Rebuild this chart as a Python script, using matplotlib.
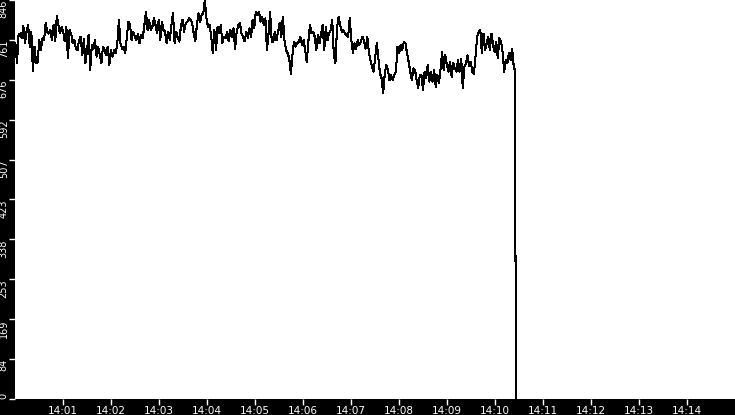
import matplotlib
matplotlib.use("Agg")
import matplotlib.pyplot as plt
import matplotlib.dates as mdates
import numpy as np
import pandas as pd

# readings (values) sampled along the trace, left to right
values = [
    754, 712, 772, 775, 765, 791, 754, 779, 793, 747, 779, 696, 747, 712, 715, 761,
    740, 765, 761, 797, 779, 775, 782, 761, 793, 758, 812, 793, 775, 789, 779, 758,
    789, 722, 782, 775, 754, 761, 743, 740, 761, 768, 729, 763, 712, 740, 772, 698,
    751, 743, 761, 726, 747, 729, 712, 747, 740, 729, 747, 708, 740, 726, 740, 733,
    754, 804, 754, 743, 747, 733, 768, 800, 793, 761, 779, 768, 761, 775, 754, 772,
    765, 793, 821, 782, 804, 782, 789, 807, 793, 775, 804, 761, 800, 782, 779, 754,
    779, 761, 793, 818, 754, 779, 765, 758, 793, 804, 779, 797, 800, 807, 804, 797,
    775, 758, 793, 818, 800, 814, 818, 846, 807, 789, 793, 768, 733, 782, 740, 789,
    775, 793, 754, 768, 765, 779, 758, 782, 768, 786, 743, 779, 793, 797, 775, 768,
    758, 779, 765, 786, 768, 804, 786, 821,
    814, 821, 800, 811, 793, 807, 740, 775, 821, 758, 758, 779, 761, 779, 797, 768,
    811, 761, 740, 733, 722, 690, 729, 758, 747, 754, 758, 768, 751, 761, 740, 715,
    758, 793, 775, 779, 768, 740, 772, 754, 775, 793, 740, 789, 761, 775, 782, 804,
    729, 712, 786, 811, 793, 779, 782, 775, 772, 768, 807, 761, 733, 754, 743, 761,
    751, 758, 768, 758, 743, 768, 736, 719, 705, 694, 726, 754, 722, 690, 680, 648,
    690, 708, 698, 676, 687, 676, 687, 694, 747, 733, 751, 740, 758, 754, 733, 715,
    694, 676, 701, 698, 676, 659, 687, 687, 655, 694, 680, 708, 673, 694, 673, 698,
    662, 687, 669, 698, 736, 698, 729, 708, 694, 715, 683, 712, 701, 694, 719, 694,
    722, 659, 705, 712, 729, 705, 715, 694, 690, 726, 768, 779, 782, 733, 775, 740,
    754, 768, 740, 775, 751, 736, 758, 722, 765, 758, 736, 694, 719, 712, 733, 719,
    743, 705, 694,
]
drop_values = [352, 0]
start = "2024-01-01 14:00:00.5"
end = "2024-01-01 14:10:25.4"
drop_times = ["2024-01-01 14:10:25.45", "2024-01-01 14:10:26.6"]
x_start = "2024-01-01 14:00:00"
x_end = "2024-01-01 14:15:00"
y_max = 846

times = pd.date_range(start, end, periods=len(values)).append(pd.DatetimeIndex(drop_times))
series = pd.Series(values + drop_values, index=times)
yticks = np.linspace(0, y_max, 11)
ylabels = [str(int(v)) for v in yticks]

fig = plt.figure(figsize=(7.35, 4.15), dpi=100, facecolor="black")
ax = fig.add_axes([15 / 735, 16 / 415, 720 / 735, 399 / 415])
ax.set_facecolor("white")

ax.plot(series.index, series.values, color="black", lw=0.75, antialiased=False)

ax.set_xlim(pd.Timestamp(x_start), pd.Timestamp(x_end))
ax.set_ylim(0, y_max)

ax.xaxis.set_major_locator(mdates.MinuteLocator(byminute=range(1, 15)))
ax.xaxis.set_major_formatter(mdates.DateFormatter("%H:%M"))
ax.set_yticks(yticks)
ax.set_yticklabels(ylabels)

for s in ax.spines.values():
    s.set_visible(False)

ax.tick_params(axis="both", colors="white", labelcolor="white",
               length=4, width=1, direction="out")
ax.tick_params(axis="x", pad=1, labelsize=7.5)
ax.tick_params(axis="y", pad=0.5, labelsize=7)
for lab in ax.get_yticklabels():
    lab.set_rotation(90)
    lab.set_va("top")
    lab.set_ha("right")
ax.get_yticklabels()[0].set_va("bottom")

fig.savefig("out.png", dpi=100, facecolor="black")
